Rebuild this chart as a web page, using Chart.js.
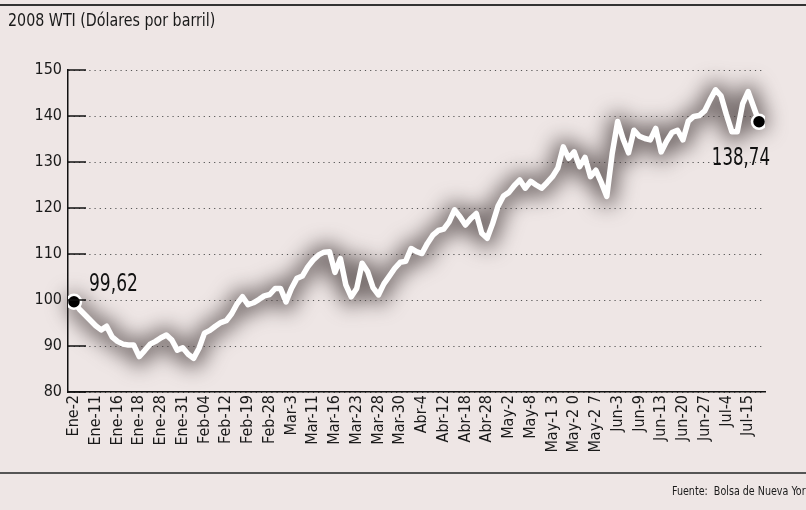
<!DOCTYPE html>
<html>
<head>
<meta charset="utf-8">
<script src="https://cdn.jsdelivr.net/npm/chart.js@4.4.1/dist/chart.umd.min.js"></script>
<style>
  html, body { margin: 0; padding: 0; background: #eee6e5; }
  #grafico { display: block; }
</style>
</head>
<body>
<canvas id="grafico" width="806" height="510"></canvas>
<script>
// Etiquetas del eje X (una cada 4 sesiones)
const tickLabels = ['Ene-2', 'Ene-11', 'Ene-16', 'Ene-18', 'Ene-28', 'Ene-31', 'Feb-04', 'Feb-12',
    'Feb-19', 'Feb-28', 'Mar-3', 'Mar-11', 'Mar-16', 'Mar-23', 'Mar-28', 'Mar-30', 'Abr-4',
    'Abr-12', 'Abr-18', 'Abr-28', 'May-2', 'May-8', 'May-1 3', 'May-2 0', 'May-2 7', 'Jun-3',
    'Jun-9', 'Jun-13', 'Jun-20', 'Jun-27', 'Jul-4', 'Jul-15'];

// Precio WTI por sesión (USD por barril)
const precios = [
    99.62, 98.0, 96.8, 95.6, 94.4, 93.5, 94.3, 92.0, 91.0, 90.4,
    90.2, 90.2, 87.7, 89.0, 90.4, 91.0, 91.8, 92.4, 91.3, 89.1,
    89.6, 88.2, 87.3, 89.5, 92.8, 93.4, 94.3, 95.1, 95.5, 97.0,
    99.2, 100.7, 99.0, 99.4, 100.1, 100.9, 101.2, 102.5, 102.5, 99.6,
    102.5, 104.7, 105.2, 107.2, 108.7, 109.8, 110.4, 110.5, 106.0, 109.0,
    103.3, 100.7, 102.5, 108.0, 106.2, 102.7, 101.1, 103.5, 105.2, 106.9,
    108.2, 108.4, 111.2, 110.5, 110.1, 112.3, 114.1, 115.1, 115.4, 117.0,
    119.6, 118.1, 116.3, 117.7, 118.8, 114.5, 113.4, 116.6, 120.4, 122.6,
    123.4, 124.9, 126.1, 124.3, 125.8, 125.0, 124.3, 125.5, 126.8, 128.7,
    133.3, 130.8, 132.2, 129.0, 131.0, 126.8, 128.2, 125.5, 122.5, 131.9,
    138.8, 135.0, 132.0, 136.9, 135.6, 135.1, 134.8, 137.3, 132.2, 134.5,
    136.4, 136.9, 134.8, 138.9, 139.9, 140.1, 141.1, 143.5, 145.7, 144.4,
    140.3, 136.6, 136.6, 142.7, 145.3, 142.0, 138.74
];

const yTicks = [80, 90, 100, 110, 120, 130, 140, 150];
const sesionesPorEtiqueta = 4;

const fuente = "'Liberation Sans Narrow', 'Arial Narrow', 'DejaVu Sans Condensed', sans-serif";
const ultimo = precios.length - 1;

function formato(v) {
    return v.toFixed(2).replace('.', ',');
}

// texto estrechado horizontalmente (imita la letra condensada del original)
function textoEstrecho(ctx, txt, x, y, escala, alinear) {
    ctx.save();
    ctx.translate(x, y);
    ctx.scale(escala, 1);
    ctx.textAlign = alinear || 'left';
    ctx.fillText(txt, 0, 0);
    ctx.restore();
}

// halo gris difuminado bajo la línea blanca
const halo = {
    id: 'halo',
    beforeDatasetsDraw(chart) {
        const ctx = chart.ctx;
        const pts = chart.getDatasetMeta(0).data;
        ctx.save();
        ctx.filter = 'blur(10px)';
        ctx.strokeStyle = 'rgba(70, 60, 60, 0.7)';
        ctx.lineWidth = 18;
        ctx.lineJoin = 'round';
        ctx.lineCap = 'round';
        ctx.beginPath();
        pts.forEach(function (p, i) {
            if (i === 0) ctx.moveTo(p.x, p.y + 1); else ctx.lineTo(p.x, p.y + 1);
        });
        ctx.stroke();
        ctx.restore();
    }
};

// título, fuente, separadores, marcas del eje Y y valores extremos
const decoracion = {
    id: 'decoracion',
    afterDraw(chart) {
        const ctx = chart.ctx;
        const area = chart.chartArea;
        ctx.save();
        ctx.fillStyle = '#1a1a1a';
        ctx.textBaseline = 'middle';
        ctx.font = '18px ' + fuente;
        textoEstrecho(ctx, '2008 WTI (Dólares por barril)', 8, 21, 0.88);
        ctx.font = '12.5px ' + fuente;
        textoEstrecho(ctx, 'Fuente:  Bolsa de Nueva York', 672, 492, 0.85);

        ctx.strokeStyle = '#333';
        ctx.lineWidth = 2;
        ctx.beginPath();
        ctx.moveTo(0, 5); ctx.lineTo(806, 5);
        ctx.stroke();
        ctx.strokeStyle = '#555';
        ctx.beginPath();
        ctx.moveTo(0, 473); ctx.lineTo(806, 473);
        ctx.stroke();

        // marcas cortas del eje Y, hacia dentro
        const y = chart.scales.y;
        ctx.strokeStyle = '#111';
        ctx.lineWidth = 1.5;
        yTicks.forEach(function (t) {
            const py = y.getPixelForValue(t);
            ctx.beginPath();
            ctx.moveTo(area.left, py);
            ctx.lineTo(area.left + 18, py);
            ctx.stroke();
        });

        // valores inicial y final
        const meta = chart.getDatasetMeta(0);
        const p0 = meta.data[0];
        const pN = meta.data[ultimo];
        ctx.font = '25px ' + fuente;
        ctx.fillStyle = '#111';
        textoEstrecho(ctx, formato(precios[0]), p0.x + 15, p0.y - 17, 0.76, 'left');
        textoEstrecho(ctx, formato(precios[ultimo]), pN.x + 11, pN.y + 37, 0.74, 'right');
        ctx.restore();
    }
};

const ctx = document.getElementById('grafico').getContext('2d');
const grafico = new Chart(ctx, {
    type: 'line',
    data: {
        datasets: [{
            data: precios.map(function (v, i) { return { x: i, y: v }; }),
            borderColor: '#ffffff',
            borderWidth: 5.5,
            borderJoinStyle: 'round',
            borderCapStyle: 'round',
            tension: 0,
            fill: false,
            pointRadius: function (c) { return (c.dataIndex === 0 || c.dataIndex === ultimo) ? 7 : 0; },
            pointBackgroundColor: '#000',
            pointBorderColor: '#fff',
            pointBorderWidth: 2.5
        }]
    },
    options: {
        responsive: false,
        animation: false,
        devicePixelRatio: 1,
        layout: { padding: { top: 70, right: 41, bottom: 38, left: 0 } },
        plugins: {
            legend: { display: false },
            tooltip: { enabled: false }
        },
        scales: {
            x: {
                type: 'linear',
                min: -1.1,
                max: 127.1,
                afterFit: function (s) { s.height = 80; },
                afterBuildTicks: function (s) {
                    s.ticks = tickLabels.map(function (_, k) { return { value: k * sesionesPorEtiqueta }; });
                },
                grid: { display: false, drawTicks: false },
                border: { color: '#111', width: 1.5 },
                ticks: {
                    autoSkip: false,
                    minRotation: 90,
                    maxRotation: 90,
                    padding: 3,
                    color: '#1a1a1a',
                    font: { family: fuente, size: 16 },
                    callback: function (v, i) { return tickLabels[i]; }
                }
            },
            y: {
                min: 80,
                max: 150,
                afterFit: function (s) { s.width = 68; },
                afterBuildTicks: function (s) {
                    s.ticks = yTicks.map(function (t) { return { value: t }; });
                },
                grid: {
                    color: '#555',
                    lineWidth: 1,
                    drawTicks: false
                },
                border: { color: '#111', width: 1.5, dash: [1.2, 4] },
                ticks: {
                    padding: 6,
                    color: '#1a1a1a',
                    font: { family: fuente, size: 16 }
                }
            }
        }
    },
    plugins: [halo, decoracion]
});
</script>
</body>
</html>
